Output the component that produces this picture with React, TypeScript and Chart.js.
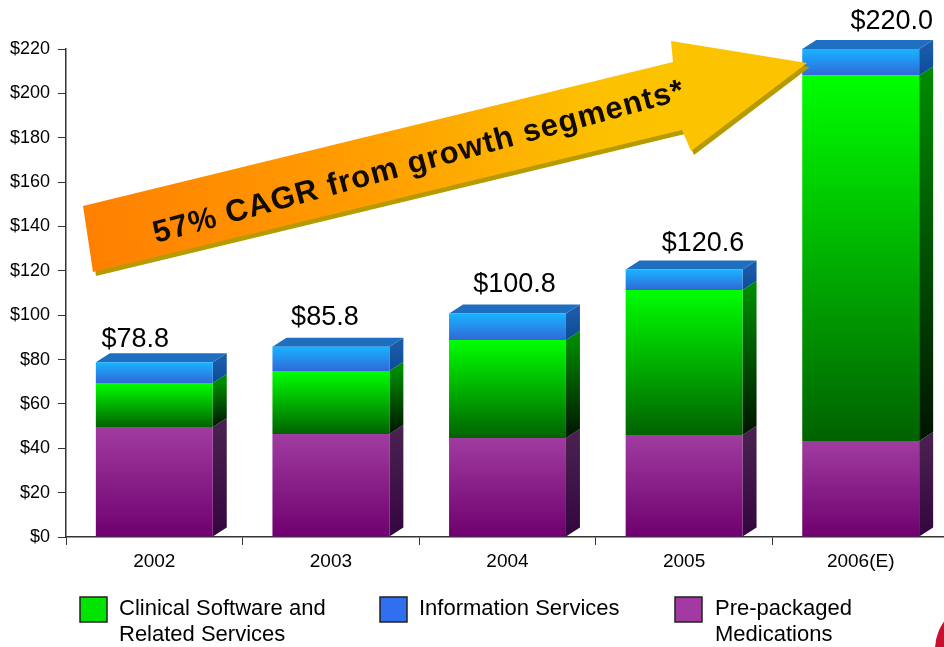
import React, { useEffect, useRef } from "react";
import { Chart, registerables } from "chart.js";

Chart.register(...registerables);

const categories = ["2002", "2003", "2004", "2005", "2006(E)"];
const medications = [49.6, 46.4, 44.6, 46.0, 43.3];
const clinical = [19.8, 28.4, 44.2, 65.4, 164.7];
const information = [9.4, 11.0, 12.0, 9.2, 12.0];
const totals = ["$78.8", "$85.8", "$100.8", "$120.6", "$220.0"];
const seriesNames = ["Pre-packaged Medications", "Clinical Software and Related Services", "Information Services"];
const arrowText = "57% CAGR from growth segments*";
const FONT = '"Liberation Sans", Arial, sans-serif';
const DX = 14;
const DY = -9;
const labelShiftX = [-19, -6, 7, 19, 31];
const labelShiftY = [15, 22, 21, 18, 20];
const series = [medications, clinical, information];

const front = [
  ["#a03ca0", "#6f006f"],
  ["#00ff00", "#006200"],
  ["#18b4ff", "#3068d8"],
];
const side = [
  ["#4a2050", "#33063f"],
  ["#008a00", "#001400"],
  ["#1a5aa8", "#0a4c96"],
];
const topFace = "#1f6fc0";

const legendEntries = [
  { color: "#00e400", lines: ["Clinical Software and", "Related Services"], x: 80, tx: 119 },
  { color: "#2f6ff0", lines: ["Information Services"], x: 380, tx: 419 },
  { color: "#a33aa3", lines: ["Pre-packaged", "Medications"], x: 675, tx: 715 },
];

const pseudo3d = {
  id: "pseudo3d",
  beforeDatasetsDraw(chart: any) {
    const { ctx } = chart;
    chart.data.datasets.forEach((_: any, i: number) => {
      chart.getDatasetMeta(i).data.forEach((el: any) => {
        const r = el.x + el.width / 2;
        const g = ctx.createLinearGradient(0, el.y, 0, el.base);
        g.addColorStop(0, side[i][0]);
        g.addColorStop(1, side[i][1]);
        ctx.fillStyle = g;
        ctx.beginPath();
        ctx.moveTo(r, el.y);
        ctx.lineTo(r + DX, el.y + DY);
        ctx.lineTo(r + DX, el.base + DY);
        ctx.lineTo(r, el.base);
        ctx.closePath();
        ctx.fill();
        if (i === 2) {
          const l = el.x - el.width / 2;
          ctx.fillStyle = topFace;
          ctx.beginPath();
          ctx.moveTo(l, el.y);
          ctx.lineTo(l + DX, el.y + DY);
          ctx.lineTo(r + DX, el.y + DY);
          ctx.lineTo(r, el.y);
          ctx.closePath();
          ctx.fill();
        }
      });
    });
  },
};

const overlay = {
  id: "overlay",
  afterDatasetsDraw(chart: any) {
    const { ctx } = chart;
    // totals above the stacks
    ctx.save();
    ctx.fillStyle = "#000";
    ctx.font = `27px ${FONT}`;
    ctx.textAlign = "center";
    ctx.textBaseline = "alphabetic";
    chart.getDatasetMeta(2).data.forEach((el: any, i: number) => {
      ctx.fillText(totals[i], el.x + labelShiftX[i], el.y - labelShiftY[i]);
    });
    ctx.restore();

    // arrow
    const body = [
      [83, 206], [673, 62], [671, 41], [807, 63], [691, 151], [682, 130], [93, 272],
    ];
    const path = (dx: number, dy: number) => {
      ctx.beginPath();
      body.forEach(([x, y], k) => (k ? ctx.lineTo(x + dx, y + dy) : ctx.moveTo(x + dx, y + dy)));
      ctx.closePath();
    };
    ctx.save();
    ctx.fillStyle = "#b59a00";
    path(3, 4);
    ctx.fill();
    const g = ctx.createLinearGradient(83, 240, 690, 100);
    g.addColorStop(0, "#ff7f00");
    g.addColorStop(0.5, "#ffa000");
    g.addColorStop(0.85, "#fcc000");
    g.addColorStop(1, "#fcc400");
    ctx.fillStyle = g;
    path(0, 0);
    ctx.fill();
    ctx.translate(156, 243);
    ctx.rotate((-15.2 * Math.PI) / 180);
    ctx.fillStyle = "#120c00";
    ctx.font = `bold 31px ${FONT}`;
    (ctx as any).letterSpacing = "1.1px";
    ctx.textAlign = "left";
    ctx.fillText(arrowText, 0, 0);
    ctx.restore();

    // legend
    ctx.save();
    legendEntries.forEach((e) => {
      ctx.fillStyle = e.color;
      ctx.strokeStyle = "#222";
      ctx.lineWidth = 1.5;
      ctx.fillRect(e.x, 597, 27, 25);
      ctx.strokeRect(e.x, 597, 27, 25);
      ctx.fillStyle = "#000";
      ctx.font = `22px ${FONT}`;
      ctx.textBaseline = "alphabetic";
      e.lines.forEach((t, k) => ctx.fillText(t, e.tx, 615 + k * 26));
    });
    // corner mark
    ctx.fillStyle = "#c8102e";
    ctx.beginPath();
    ctx.arc(985, 650, 50, 0, Math.PI * 2);
    ctx.fill();
    ctx.restore();
  },
};

const fill = (i: number) => (c: any) => {
  const y = c.chart.scales.y;
  if (!y || c.dataIndex === undefined) return front[i][0];
  let lo = 0;
  for (let k = 0; k < i; k++) lo += series[k][c.dataIndex];
  const hi = lo + series[i][c.dataIndex];
  const top = y.getPixelForValue(hi);
  const bottom = y.getPixelForValue(lo);
  if (!Number.isFinite(top) || !Number.isFinite(bottom)) return front[i][0];
  const g = c.chart.ctx.createLinearGradient(0, top, 0, bottom);
  g.addColorStop(0, front[i][0]);
  g.addColorStop(1, front[i][1]);
  return g;
};

export default function App() {
  const ref = useRef<HTMLCanvasElement>(null);
  useEffect(() => {
    const chart = new Chart(ref.current!, {
      type: "bar",
      data: {
        labels: categories,
        datasets: series.map((d, i) => ({
          label: seriesNames[i],
          data: d,
          backgroundColor: fill(i),
          barPercentage: 0.662,
          categoryPercentage: 1,
          borderWidth: 0,
        })),
      },
      options: {
        animation: false,
        responsive: false,
        layout: { autoPadding: false, padding: { top: 49, right: 11, left: 0, bottom: 0 } },
        plugins: { legend: { display: false }, tooltip: { enabled: false } },
        scales: {
          x: {
            stacked: true,
            afterFit: (s: any) => { s.height = 110; },
            border: { color: "#333", width: 1.5 },
            grid: { drawOnChartArea: false, tickLength: 8, color: "#333" },
            ticks: { color: "#000", font: { family: FONT, size: 19 }, padding: 5, maxRotation: 0 },
          },
          y: {
            stacked: true,
            min: 0,
            max: 220,
            afterFit: (s: any) => { s.width = 66; },
            border: { color: "#333", width: 1.5 },
            grid: { drawOnChartArea: false, tickLength: 8, color: "#333" },
            ticks: {
              stepSize: 20,
              color: "#000",
              font: { family: FONT, size: 18 },
              padding: 8,
              callback: (v: any) => `$${v}`,
            },
          },
        },
      },
      plugins: [pseudo3d, overlay],
    });
    return () => chart.destroy();
  }, []);
  return (
    <div style={{ position: "fixed", left: 0, top: 0, width: 944, height: 647, overflow: "hidden", background: "#fff" }}>
      <canvas ref={ref} width={960} height={647} style={{ display: "block" }} />
    </div>
  );
}
